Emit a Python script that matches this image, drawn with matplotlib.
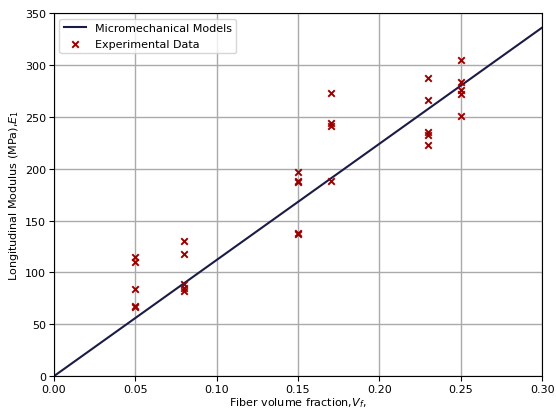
import numpy as np
import matplotlib
matplotlib.use('Agg')
import matplotlib.pyplot as plt

# Micromechanical model prediction (straight line through origin)
model_vf = [0.0, 0.30]
model_E = [0.0, 336.0]

# Measured longitudinal modulus at each fiber volume fraction
exp_vf = [0.05] * 5 + [0.08] * 5 + [0.15] * 5 + [0.17] * 4 + [0.23] * 5 + [0.25] * 5
exp_E = [115, 110, 84, 68, 67,
         130, 118, 89, 85, 82,
         197, 188, 187, 138, 137,
         273, 244, 241, 188,
         287, 266, 235, 232, 223,
         305, 284, 276, 272, 251]

fig = plt.figure(figsize=(5.56, 4.14), dpi=100)
ax = fig.add_axes([0.097, 0.089, 0.878, 0.877])

ax.plot(model_vf, model_E, color='#1b1b48', linewidth=1.5, label='Micromechanical Models')
ax.scatter(exp_vf, exp_E, marker='x', color='#9b0000', s=22, linewidths=1.4,
           label='Experimental Data', zorder=3)

ax.set_xlim(0, 0.30)
ax.set_ylim(0, 350)
ax.set_xticks(np.arange(0, 0.301, 0.05))
ax.set_yticks(np.arange(0, 351, 50))
ax.tick_params(labelsize=8, pad=2)
ax.grid(True, color='#aaaaaa', linewidth=1)
ax.set_axisbelow(True)

ax.set_xlabel('Fiber volume fraction,$V_f$,', fontsize=8, labelpad=1)
ax.set_ylabel('Longitudinal Modulus (MPa),$E_1$', fontsize=8, labelpad=3)
ax.legend(loc='upper left', fontsize=8)

fig.savefig('out.png', dpi=100)
